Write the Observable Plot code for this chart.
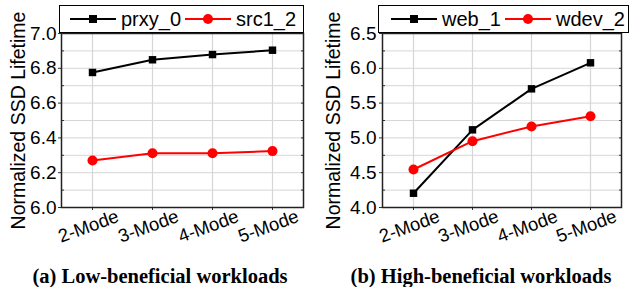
<!DOCTYPE html>
<html><head><meta charset="utf-8">
<script src="https://cdn.jsdelivr.net/npm/d3@7"></script>
<script src="https://cdn.jsdelivr.net/npm/@observablehq/plot@0.6"></script>
<style>
body{margin:0;background:#fff;}
#wrap{position:relative;width:630px;height:287px;overflow:hidden;font-family:"Liberation Sans",Arial,sans-serif;}
.panel{position:absolute;top:0;}
.legend{position:absolute;top:5px;height:28px;border:1.5px solid #000;box-sizing:border-box;background:#fff;}
.legend .item{position:absolute;top:0;height:100%;display:flex;align-items:center;font-size:20px;}
.cap{position:absolute;top:266px;font-family:"Liberation Serif","Times New Roman",serif;font-weight:bold;font-size:20.5px;line-height:20px;white-space:nowrap;transform:translateX(-50%);}
</style></head>
<body><div id="wrap"></div>
<script>
const modes = ["2-Mode", "3-Mode", "4-Mode", "5-Mode"];
const prxy0 = [6.776, 6.849, 6.879, 6.904];
const src12 = [6.270, 6.312, 6.312, 6.324];
const web1 = [4.205, 5.116, 5.705, 6.079];
const wdev2 = [4.546, 4.953, 5.164, 5.312];
const leftTicks = [6.0, 6.2, 6.4, 6.6, 6.8, 7.0];
const leftMinor = [6.1, 6.3, 6.5, 6.7, 6.9];
const rightTicks = [4.0, 4.5, 5.0, 5.5, 6.0, 6.5];
const rightMinor = [4.25, 4.75, 5.25, 5.75, 6.25];
const yLabel = "Normalized SSD Lifetime";
const captions = ["(a) Low-beneficial workloads", "(b) High-beneficial workloads"];

const wrap = document.getElementById("wrap");

function panel(cfg) {
  const rows = modes.flatMap((m, i) => [
    {mode: m, series: cfg.names[0], value: cfg.a[i]},
    {mode: m, series: cfg.names[1], value: cfg.b[i]}
  ]);
  const color = {[cfg.names[0]]: "#000000", [cfg.names[1]]: "#ff0000"};
  const grid = [...cfg.ticks, ...cfg.minor];
  const svg = Plot.plot({
    width: 315, height: 240,
    marginTop: 33, marginBottom: 33, marginLeft: cfg.ml, marginRight: cfg.mr,
    x: {type: "point", domain: modes, padding: 0.5},
    y: {domain: cfg.domain},
    style: {fontFamily: "'Liberation Sans', Arial, sans-serif", color: "#000", background: "transparent", overflow: "visible"},
    marks: [
      Plot.ruleY(grid, {y: d => d, stroke: "#d6d6d6", strokeWidth: 1}),
      Plot.ruleX(modes, {x: d => d, stroke: "#d6d6d6", strokeWidth: 1.2}),
      Plot.axisY({ticks: cfg.ticks, tickSize: 3, tickPadding: cfg.tp, tickFormat: d => d.toFixed(1), fontSize: 19, label: null, stroke: "#333"}),
      Plot.axisY({ticks: cfg.minor, tickSize: -3, tickFormat: () => "", label: null, stroke: "#333"}),
      Plot.axisY({anchor: "right", ticks: grid, tickSize: -3, tickFormat: () => "", label: null, stroke: "#333"}),
      Plot.axisX({ticks: modes, tickSize: 3, tickFormat: () => "", label: null, stroke: "#333"}),
      Plot.text(modes, {x: d => d, frameAnchor: "bottom", dy: 19, dx: -4, rotate: -20, textAnchor: "middle", lineAnchor: "middle", fontSize: 18.5, fill: "#000"}),
      Plot.text([yLabel], {frameAnchor: "left", dx: cfg.ldx, rotate: -90, textAnchor: "middle", lineAnchor: "middle", fontSize: 19.5, fill: "#000"}),
      Plot.frame({stroke: "#222", strokeWidth: 1.5}),
      Plot.line(rows, {x: "mode", y: "value", z: "series", stroke: d => color[d.series], strokeWidth: 2}),
      Plot.dot(rows.filter(d => d.series === cfg.names[0]), {x: "mode", y: "value", symbol: "square", r: 4.2, fill: "#000", stroke: "none"}),
      Plot.dot(rows.filter(d => d.series === cfg.names[1]), {x: "mode", y: "value", symbol: "circle", r: 5, fill: "#ff0000", stroke: "none"})
    ]
  });
  const div = document.createElement("div");
  div.className = "panel";
  div.style.left = cfg.left + "px";
  div.appendChild(svg);
  wrap.appendChild(div);

  // legend
  const lg = document.createElement("div");
  lg.className = "legend";
  lg.style.left = cfg.lg.x + "px";
  lg.style.width = cfg.lg.w + "px";
  cfg.names.forEach((n, k) => {
    const it = document.createElement("div");
    it.className = "item";
    it.style.left = cfg.lg.items[k] + "px";
    const c = color[n];
    const marker = k === 0
      ? `<rect x="19" y="8" width="8" height="8" fill="${c}"/>`
      : `<circle cx="23" cy="12" r="5" fill="${c}"/>`;
    it.innerHTML = `<svg width="46" height="24" style="margin-right:${cfg.lg.gap}px"><line x1="0" x2="46" y1="12" y2="12" stroke="${c}" stroke-width="2"/>${marker}</svg><span>${n}</span>`;
    lg.appendChild(it);
  });
  wrap.appendChild(lg);

  const cap = document.createElement("div");
  cap.className = "cap";
  cap.style.left = cfg.capX + "px";
  cap.textContent = cfg.caption;
  wrap.appendChild(cap);
}

panel({left: 0, ml: 61, mr: 12, tp: 2, ldx: -43, domain: [6.0, 7.0], ticks: leftTicks, minor: leftMinor,
  a: prxy0, b: src12, names: ["prxy_0", "src1_2"],
  lg: {x: 59, w: 245, items: [10, 125], gap: 5}, caption: captions[0], capX: 160});
panel({left: 315, ml: 67, mr: 9, tp: 3, ldx: -49, domain: [4.0, 6.5], ticks: rightTicks, minor: rightMinor,
  a: web1, b: wdev2, names: ["web_1", "wdev_2"],
  lg: {x: 378, w: 251, items: [12, 126], gap: 5}, caption: captions[1], capX: 481});
</script>
</body></html>
